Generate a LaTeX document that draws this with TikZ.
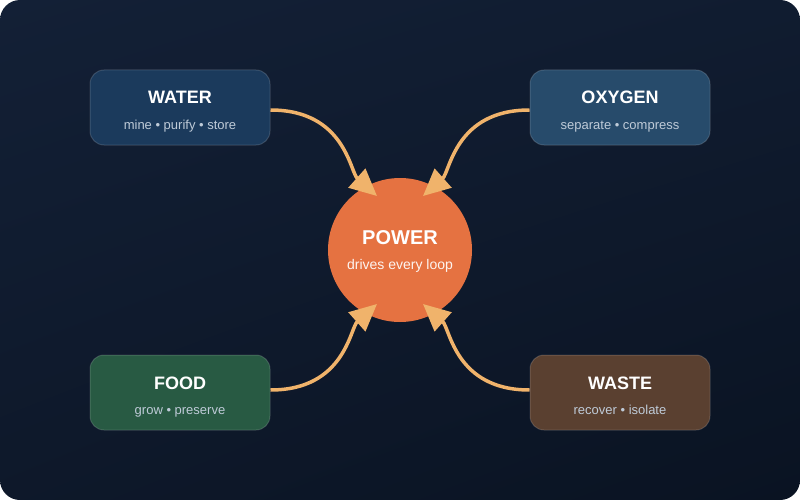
\documentclass[tikz,border=0pt]{standalone}
\usepackage{fontspec}
\setmainfont{Liberation Sans}
\usetikzlibrary{arrows.meta,shadings}
\definecolor{bgA}{HTML}{132036}
\definecolor{bgB}{HTML}{0A1322}
\definecolor{waterC}{HTML}{1B3A5C}
\definecolor{oxyC}{HTML}{274B6B}
\definecolor{foodC}{HTML}{285A43}
\definecolor{wasteC}{HTML}{5A4030}
\definecolor{powerC}{HTML}{E57241}
\definecolor{arrC}{HTML}{F0B36B}
\definecolor{subC}{HTML}{BFCBD8}
\tikzset{
  box/.style={rectangle, rounded corners=14pt, minimum width=180pt, minimum height=75pt,
    draw=white, draw opacity=0.15, line width=1pt, inner sep=0pt},
  ttl/.style={anchor=base, text=white, font=\fontsize{18}{20}\selectfont\bfseries, inner sep=0pt},
  sub/.style={anchor=base, text=subC, font=\fontsize{13}{15}\selectfont, inner sep=0pt},
  conn/.style={draw=arrC, line width=3.5pt, -{Triangle[length=27pt,width=25pt]}},
}
\begin{document}
\begin{tikzpicture}[x=1pt,y=-1pt]
\useasboundingbox (0,0) rectangle (800,500);
\fill[white] (0,0) rectangle (800,500);
\shade[rounded corners=20pt, upper left=bgA, upper right=bgA!70!bgB, lower left=bgA!40!bgB, lower right=bgB]
  (0,0) rectangle (800,500);

\node[box, fill=waterC] (water) at (180,107.5) {};
\node[box, fill=oxyC] (oxygen) at (620,107.5) {};
\node[box, fill=foodC] (food) at (180,392.5) {};
\node[box, fill=wasteC] (waste) at (620,392.5) {};

\node[ttl] (waterT) at (180,104) {WATER};
\node[sub] (waterS) at (180,129) {mine • purify • store};
\node[ttl] (oxygenT) at (620,104) {OXYGEN};
\node[sub] (oxygenS) at (620,129) {separate • compress};
\node[ttl] (foodT) at (180,389) {FOOD};
\node[sub] (foodS) at (180,414) {grow • preserve};
\node[ttl] (wasteT) at (620,389) {WASTE};
\node[sub] (wasteS) at (620,414) {recover • isolate};

\node[circle, fill=powerC, minimum size=144pt, inner sep=0pt] (power) at (400,250) {};
\node[anchor=base, text=white, font=\fontsize{20}{22}\selectfont\bfseries, inner sep=0pt] (powerT) at (400,244) {POWER};
\node[anchor=base, text=white!92!powerC, font=\fontsize{14}{16}\selectfont, inner sep=0pt] (powerS) at (400,269) {drives every loop};

\coordinate (tWA) at (377,196);
\coordinate (tOX) at (423,196);
\coordinate (tFO) at (377,304);
\coordinate (tWS) at (423,304);

\draw[conn] ([yshift=-2.5pt]water.east) .. controls (345,110) and (350,172) .. (tWA);
\draw[conn] ([yshift=-2.5pt]oxygen.west) .. controls (455,110) and (450,172) .. (tOX);
\draw[conn] ([yshift=2.5pt]food.east) .. controls (345,390) and (350,328) .. (tFO);
\draw[conn] ([yshift=2.5pt]waste.west) .. controls (455,390) and (450,328) .. (tWS);
\end{tikzpicture}
\end{document}
